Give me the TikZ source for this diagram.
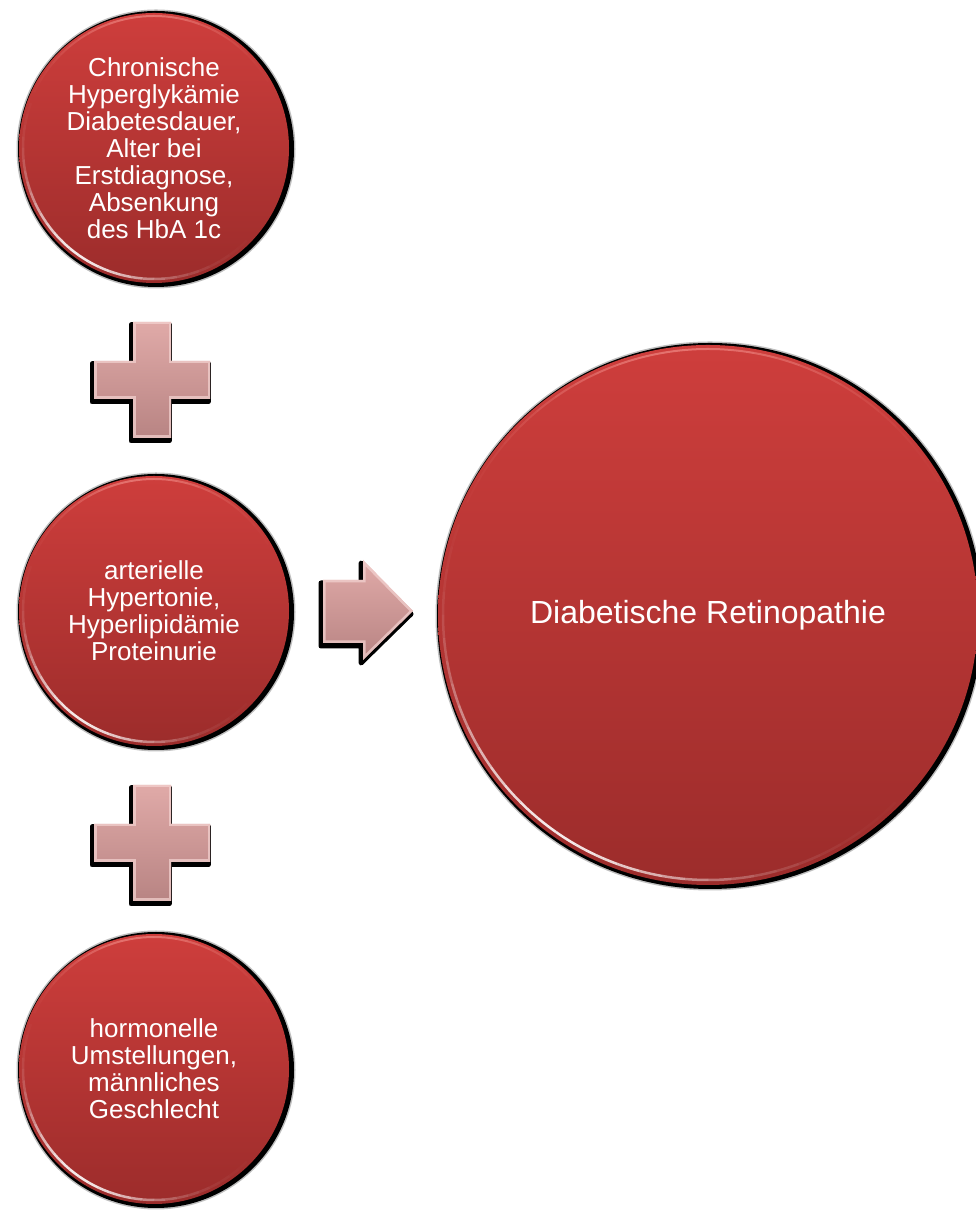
\documentclass[tikz,border=0pt]{standalone}
\usepackage{fontspec}
\setmainfont{Liberation Sans}
\definecolor{ballTop}{RGB}{206,62,60}
\definecolor{ballBot}{RGB}{156,44,43}
\definecolor{pinkTop}{RGB}{224,170,168}
\definecolor{pinkBot}{RGB}{184,132,131}
\definecolor{pinkEdge}{RGB}{244,212,210}
\definecolor{rimPink}{RGB}{245,150,145}
\begin{document}
\begin{tikzpicture}[x=1pt,y=1pt,
  ball/.style={circle, inner sep=0pt, minimum size=#1, top color=ballTop, bottom color=ballBot,
    text=white, align=center, font=\fontsize{26}{27}\selectfont},
  plusp/.style={insert path={++(-19,58) -- ++(38,0) -- ++(0,-39) -- ++(39,0) -- ++(0,-38) -- ++(-39,0)
    -- ++(0,-39) -- ++(-38,0) -- ++(0,39) -- ++(-39,0) -- ++(0,38) -- ++(39,0) -- cycle}},
  arrowp/.style={insert path={++(0,31) -- ++(40,0) -- ++(0,20) -- ++(50,-51) -- ++(-50,-49) -- ++(0,17) -- ++(-40,0) -- cycle}},
  shapefill/.style={top color=pinkTop, bottom color=pinkBot},
  shapeshadow/.style={fill=black, draw=black, line width=5pt, line join=round},
  shapebevel/.style={draw=pinkEdge, line width=5pt, opacity=0.7}
]
\useasboundingbox (0,0) rectangle (976,1214);

% centres
\coordinate (p1) at (154,1066);
\coordinate (p2) at (154,603);
\coordinate (p3) at (154,145);
\coordinate (pd) at (708,599);
\coordinate (pl1) at (152,834);
\coordinate (pl2) at (152,371);
\coordinate (ar) at (323,603);

% circle shadows
\foreach \p/\r in {p1/135,p2/135,p3/135,pd/270}{
  \fill[black,opacity=0.25] ([shift={(2,-1)}]\p) circle (\r+4.5);
  \fill[black] ([shift={(2,-1)}]\p) circle (\r+3);
}

% circles
\node[ball=270pt] (n1) at (p1) {Chronische\\Hyperglykämie\\Diabetesdauer,\\Alter bei\\Erstdiagnose,\\Absenkung\\des HbA 1c};
\node[ball=270pt] (n2) at (p2) {arterielle\\Hypertonie,\\Hyperlipidämie\\Proteinurie};
\node[ball=270pt] (n3) at (p3) {hormonelle\\Umstellungen,\\männliches\\Geschlecht};
\node[ball=540pt, font=\fontsize{32}{36}\selectfont] (nd) at (pd) {\raisebox{5pt}{Diabetische Retinopathie}};

% glossy rims
\foreach \n/\r in {n1/131,n2/131,n3/131,nd/265}{
  \foreach \a in {160,165,...,310}{
    \pgfmathsetmacro{\op}{0.9*exp(-((\a+2.5-235)/38)^2)}
    \draw[white, opacity=\op, line width=2.5pt] (\n.center) ++(\a:\r) arc (\a:\a+5:\r);
  }
  \foreach \a in {30,35,...,150}{
    \pgfmathsetmacro{\op}{0.6*exp(-((\a+2.5-95)/35)^2)}
    \draw[rimPink, opacity=\op, line width=2pt] (\n.center) ++(\a:\r+1) arc (\a:\a+5:\r+1);
  }
}

% plus signs
\foreach \p in {pl1,pl2}{
  \path[shapeshadow] ([shift={(-2,-3)}]\p) [plusp];
  \path[shapefill] (\p) [plusp];
  \begin{scope}
    \clip (\p) [plusp];
    \path[shapebevel] (\p) [plusp];
  \end{scope}
}

% arrow
\path[shapeshadow] ([shift={(-2,-3)}]ar) [arrowp];
\path[shapefill] (ar) [arrowp];
\begin{scope}
  \clip (ar) [arrowp];
  \path[shapebevel] (ar) [arrowp];
\end{scope}
\end{tikzpicture}
\end{document}
